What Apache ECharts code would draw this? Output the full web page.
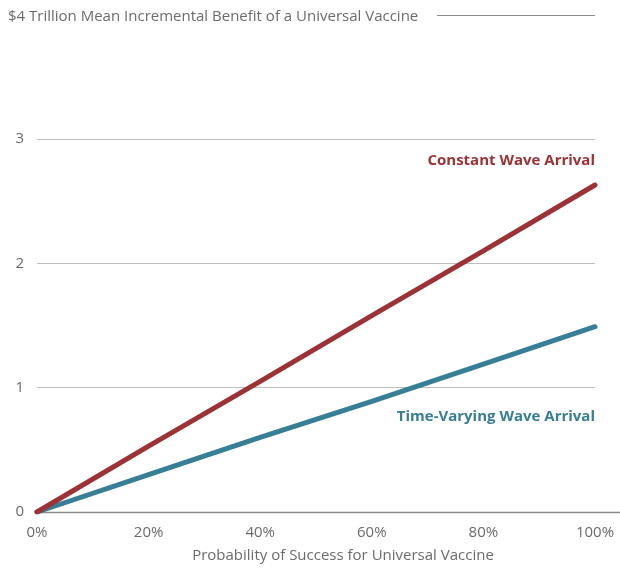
<!DOCTYPE html>
<html><head><meta charset="utf-8">
<script src="https://cdn.jsdelivr.net/npm/echarts@6/dist/echarts.min.js"></script>
<style>html,body{margin:0;padding:0;background:#fff}#c{width:620px;height:569px}</style>
</head><body><div id="c"></div>
<script>
const probability = [0, 20, 40, 60, 80, 100];
const constantWave = [0, 0.53, 1.05, 1.58, 2.10, 2.63];
const timeVarying = [0, 0.30, 0.60, 0.89, 1.19, 1.49];
const yTicks = [0, 1, 2, 3];
const titleText = '$4 Trillion Mean Incremental Benefit of a Universal Vaccine';
const xTitle = 'Probability of Success for Universal Vaccine';
const seriesNames = ['Constant Wave Arrival', 'Time-Varying Wave Arrival'];

const font = '"Open Sans", Lato, sans-serif';
const chart = echarts.init(document.getElementById('c'), null, {renderer: 'canvas'});
const mk = (arr) => probability.map((p, i) => [p, arr[i]]);
chart.setOption({
  animation: false,
  textStyle: {fontFamily: font},
  grid: {left: 37, right: 25, top: 139, bottom: 57, containLabel: false},
  title: {text: titleText, left: 3, top: 4, textStyle: {fontFamily: font, fontSize: 15, fontWeight: 'normal', color: '#6b6b6b'}},
  xAxis: {
    type: 'value', min: 0, max: 100, interval: 20,
    name: xTitle, nameLocation: 'middle', nameGap: 36,
    nameTextStyle: {fontFamily: font, fontSize: 15, color: '#6b6b6b', padding: [0, 0, 0, 54]},
    axisLine: {show: false},
    axisTick: {show: false},
    splitLine: {show: false},
    axisLabel: {formatter: '{value}%', fontFamily: font, fontSize: 15, color: '#6b6b6b', margin: 13}
  },
  yAxis: {
    type: 'value', min: 0, max: 3, interval: 1,
    axisLine: {show: false}, axisTick: {show: false},
    splitLine: {show: true, lineStyle: {color: '#bdbdbd', width: 1}},
    axisLabel: {fontFamily: font, fontSize: 15, color: '#6b6b6b', margin: 13,
      formatter: v => yTicks.includes(v) ? String(v) : ''}
  },
  graphic: [
    {type: 'line', shape: {x1: 437, y1: 15.5, x2: 595, y2: 15.5}, style: {stroke: '#8a8a8a', lineWidth: 1}},
    {type: 'line', z: 1, shape: {x1: 37, y1: 512.5, x2: 620, y2: 512.5}, style: {stroke: '#8a8a8a', lineWidth: 1.5}}
  ],
  series: [
    {
      name: seriesNames[0], type: 'line', data: mk(constantWave), showSymbol: false, z: 3,
      lineStyle: {color: '#9c3236', width: 5, cap: 'round'},
      itemStyle: {color: '#9c3236'},
      endLabel: {show: true, formatter: seriesNames[0], align: 'right', distance: 0, offset: [0, -24],
        fontFamily: font, fontSize: 15, fontWeight: 'bold', color: '#9c3236'}
    },
    {
      name: seriesNames[1], type: 'line', data: mk(timeVarying), showSymbol: false, z: 2,
      lineStyle: {color: '#377f96', width: 5, cap: 'round'},
      itemStyle: {color: '#377f96'},
      endLabel: {show: true, formatter: seriesNames[1], align: 'right', distance: 0, offset: [0, 90],
        fontFamily: font, fontSize: 15, fontWeight: 'bold', color: '#377f96'}
    }
  ]
});
</script></body></html>
